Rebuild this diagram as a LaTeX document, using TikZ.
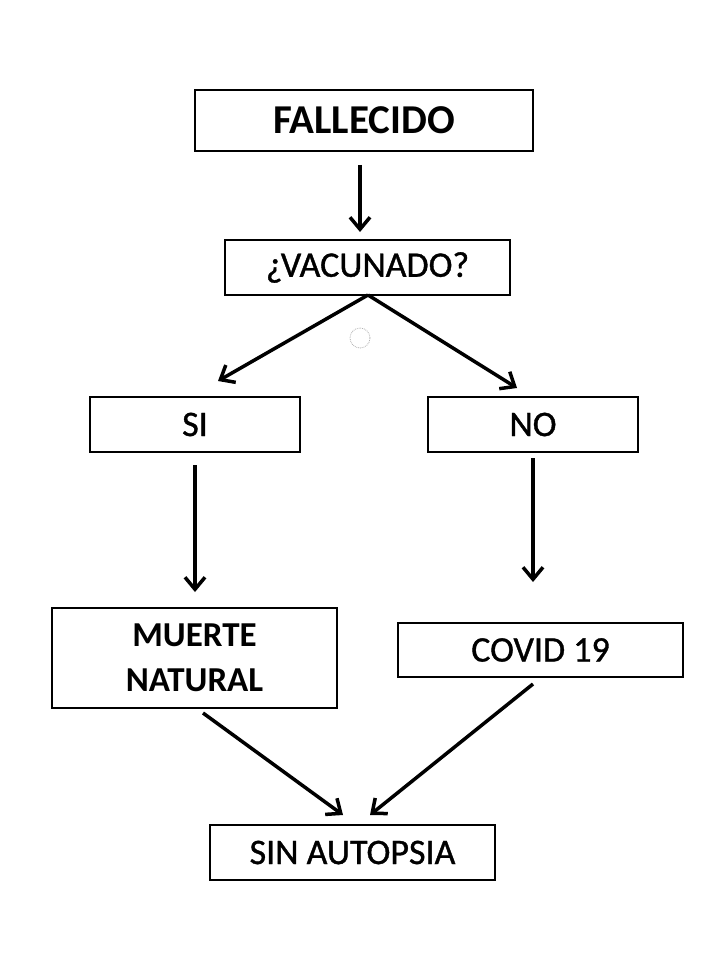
\documentclass[tikz,border=0pt]{standalone}
\usepackage{fontspec}
\setmainfont{Carlito}
\newfontfamily\semib{Carlito}[FakeBold=1.0]
\usetikzlibrary{arrows.meta}
\begin{document}
\begin{tikzpicture}[x=1pt,y=-1pt,
  boxr/.style={draw=black,line width=1.3pt,inner sep=0pt,align=center,font=\fontsize{36}{42}\semib},
  conn/.style={line width=3.5pt,-{Straight Barb[length=12pt,width=20pt,line width=3.5pt]}}]
\useasboundingbox[fill=white] (0,0) rectangle (720,960);
\node[boxr,minimum width=338pt,minimum height=61pt,font=\fontsize{41}{46}\selectfont\bfseries] (fall) at (364,120.5) {FALLECIDO};
\node[boxr,minimum width=285pt,minimum height=55pt] (vac) at (367.5,267.5) {¿VACUNADO?};
\node[boxr,minimum width=210pt,minimum height=55pt] (si) at (195,424.5) {SI};
\node[boxr,minimum width=210pt,minimum height=55pt] (no) at (533,424.5) {NO};
\node[boxr,minimum width=285pt,minimum height=100pt,font=\fontsize{35}{45}\selectfont\bfseries] (mn) at (194.5,658) {MUERTE\\NATURAL};
\node[boxr,minimum width=285pt,minimum height=54pt] (cov) at (540.5,650) {COVID 19};
\node[boxr,minimum width=285pt,minimum height=55pt] (sa) at (352.5,852.5) {SIN AUTOPSIA};
\coordinate (v0) at (368,295);
\coordinate (a1) at (360,165);
\coordinate (a1e) at (360,232);
\coordinate (b1) at (218,381);
\coordinate (b2) at (517,388);
\coordinate (c1) at (195,465);
\coordinate (c1e) at (195,592);
\coordinate (d1) at (533,458);
\coordinate (d1e) at (533,582);
\coordinate (e1) at (203,713);
\coordinate (e1e) at (343,815);
\coordinate (f1) at (533,684);
\coordinate (f1e) at (370,815);
\draw[conn] (a1) -- (a1e);
\draw[conn] (v0) -- (b1);
\draw[conn] (v0) -- (b2);
\draw[conn] (c1) -- (c1e);
\draw[conn] (d1) -- (d1e);
\draw[conn] (e1) -- (e1e);
\draw[conn] (f1) -- (f1e);
\node[circle,draw=gray!60,densely dotted,line width=0.8pt,minimum size=20pt,inner sep=0pt] (mark) at (360,338) {};
\end{tikzpicture}
\end{document}
